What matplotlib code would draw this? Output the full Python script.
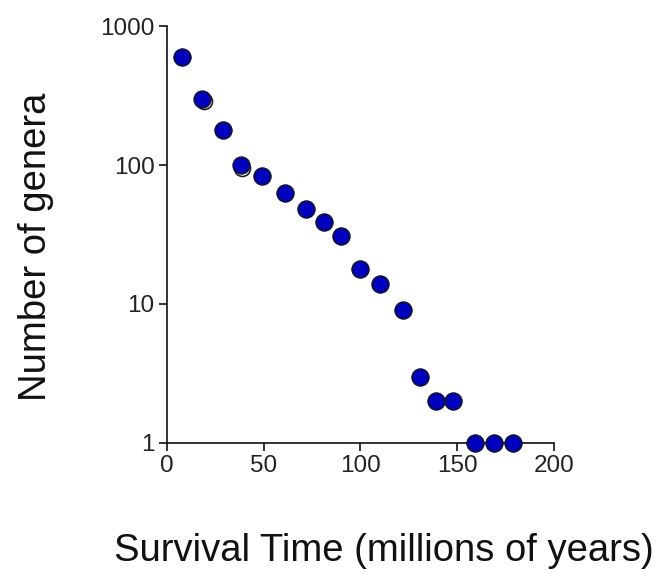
import numpy as np
import matplotlib
matplotlib.use('Agg')
import matplotlib.pyplot as plt

# survival time (millions of years) and number of genera
survival_time = [8, 18, 29, 38, 49, 61, 72, 81, 90, 100, 110, 122, 131, 139, 148, 159, 169, 179]
genera = [600, 300, 180, 100, 83, 63, 48, 39, 31, 18, 14, 9, 3, 2, 2, 1, 1, 1]

# second (open) series, mostly hidden under the filled one
survival_time_open = [8, 19, 29, 39, 49, 61, 72, 81, 90, 100, 110, 122, 131, 139, 148, 159, 169, 179]
genera_open = [600, 290, 180, 95, 83, 63, 48, 39, 31, 18, 14, 9, 3, 2, 2, 1, 1, 1]

x_ticks = [0, 50, 100, 150, 200]
y_ticks = [1, 10, 100, 1000]
y_tick_labels = ['1', '10', '100', '1000']

plt.rcParams['font.family'] = ['Liberation Sans', 'DejaVu Sans']

fig = plt.figure(figsize=(6.61, 5.73), dpi=100)
ax = fig.add_axes([0.2526, 0.2269, 0.5855, 0.7277])

ax.plot(survival_time_open, genera_open, 'o', ms=11.5, mfc='white', mec='#222222',
        mew=1.2, clip_on=False, zorder=4)
ax.plot(survival_time, genera, 'o', ms=11.8, mfc='#0000c0', mec='#10104a',
        mew=1.4, clip_on=False, zorder=5)

ax.set_yscale('log')
ax.set_xlim(0, 200)
ax.set_ylim(1, 1000)
ax.set_xticks(x_ticks)
ax.set_yticks(y_ticks)
ax.set_yticklabels(y_tick_labels)
ax.yaxis.set_minor_locator(matplotlib.ticker.NullLocator())

for side in ['top', 'right']:
    ax.spines[side].set_visible(False)
for side in ['left', 'bottom']:
    ax.spines[side].set_linewidth(1.2)
    ax.spines[side].set_color('#111111')

ax.tick_params(direction='out', length=6, width=1.2, color='#111111',
               labelsize=17.5, labelcolor='#222222', pad=3)

ax.set_xlabel('Survival Time (millions of years)', fontsize=27.5, labelpad=40,
              color='#111111', x=0.56)
ax.set_ylabel('Number of genera', fontsize=27.5, labelpad=33,
              color='#111111', y=0.47)

fig.savefig('out.png', dpi=100)
